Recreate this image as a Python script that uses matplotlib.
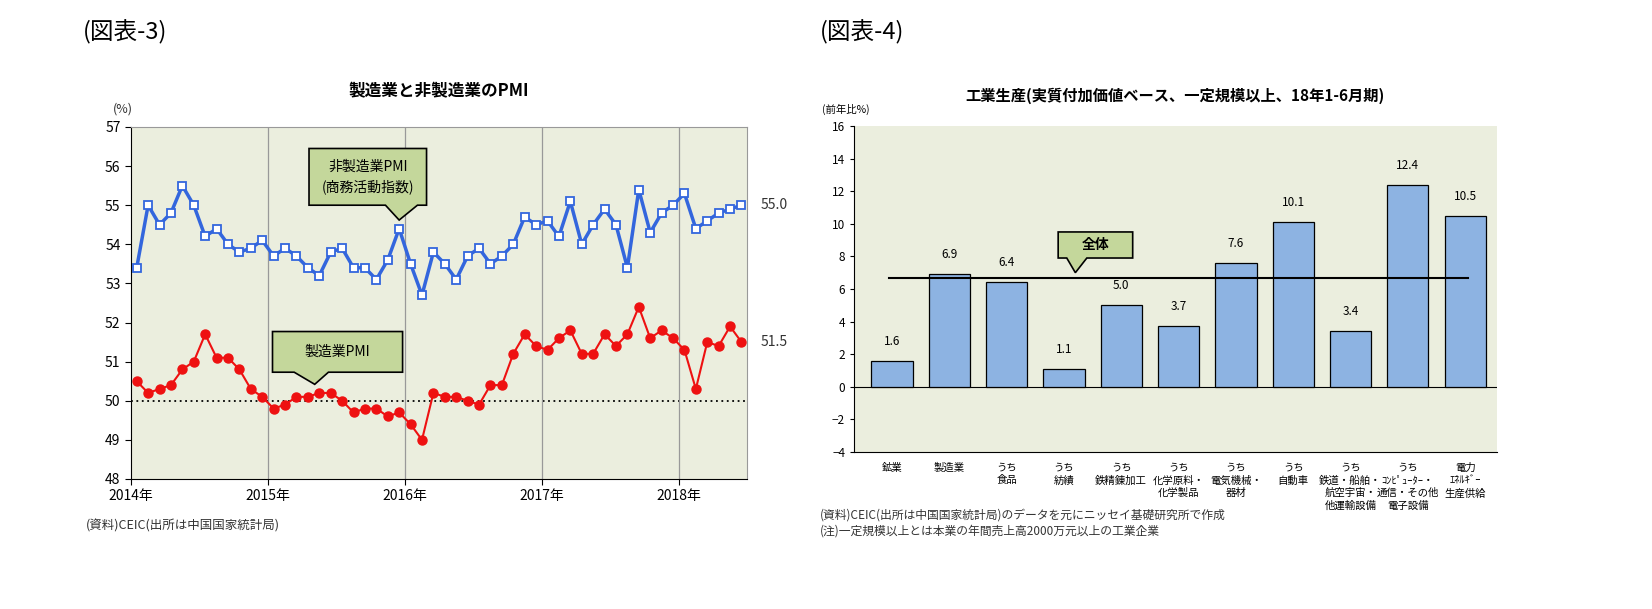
import matplotlib
matplotlib.use("Agg")
import matplotlib.pyplot as plt
from matplotlib.patches import Polygon
import numpy as np

plt.rcParams["font.family"] = "Noto Sans CJK JP"

nonmfg = [53.4,55.0,54.5,54.8,55.5,55.0,54.2,54.4,54.0,53.8,53.9,54.1,
          53.7,53.9,53.7,53.4,53.2,53.8,53.9,53.4,53.4,53.1,53.6,54.4,
          53.5,52.7,53.8,53.5,53.1,53.7,53.9,53.5,53.7,54.0,54.7,54.5,
          54.6,54.2,55.1,54.0,54.5,54.9,54.5,53.4,55.4,54.3,54.8,55.0,
          55.3,54.4,54.6,54.8,54.9,55.0]
mfg = [50.5,50.2,50.3,50.4,50.8,51.0,51.7,51.1,51.1,50.8,50.3,50.1,
       49.8,49.9,50.1,50.1,50.2,50.2,50.0,49.7,49.8,49.8,49.6,49.7,
       49.4,49.0,50.2,50.1,50.1,50.0,49.9,50.4,50.4,51.2,51.7,51.4,
       51.3,51.6,51.8,51.2,51.2,51.7,51.4,51.7,52.4,51.6,51.8,51.6,
       51.3,50.3,51.5,51.4,51.9,51.5]
year_labels = ["2014年","2015年","2016年","2017年","2018年"]

categories = ["鉱業","製造業","うち\n食品","うち\n紡績","うち\n鉄精錬加工","うち\n化学原料・\n化学製品",
              "うち\n電気機械・\n器材","うち\n自動車","うち\n鉄道・船舶・\n航空宇宙・\n他運輸設備",
              "うち\nｺﾝﾋﾟｭｰﾀｰ・\n通信・その他\n電子設備","電力\nｴﾈﾙｷﾞｰ\n生産供給"]
growth = [1.6,6.9,6.4,1.1,5.0,3.7,7.6,10.1,3.4,12.4,10.5]
total = 6.7

bg = "#EBEEDE"
callout_fc = "#C4D79B"


def callout(ax, x0, x1, yb, yt, bl, br, tip, z=6):
    verts = [(x0, yb), (bl, yb), tip, (br, yb), (x1, yb), (x1, yt), (x0, yt)]
    ax.add_patch(Polygon(verts, closed=True, fc=callout_fc, ec="black", lw=1.2, zorder=z))


fig = plt.figure(figsize=(16.52, 6.09), dpi=100)
fig.text(0.05, 0.935, "(図表-3)", fontsize=17)
fig.text(0.496, 0.935, "(図表-4)", fontsize=17)

# Left chart
ax = fig.add_axes([0.0793, 0.2135, 0.373, 0.578])
ax.set_facecolor(bg)
x = np.arange(len(nonmfg)) + 0.5
ax.plot(x, nonmfg, color="#3366DD", lw=2.5, marker="s", ms=6, mfc="white", mec="#3366DD", mew=1.3, zorder=3)
ax.plot(x, mfg, color="#EE1111", lw=1.5, marker="o", ms=6.5, mfc="#EE1111", mec="#EE1111", zorder=3)
ax.axhline(50, color="black", ls=(0, (1, 2)), lw=1.3)
ax.set_xlim(0, 54)
ax.set_ylim(48, 57)
ax.set_yticks(range(48, 58))
ax.set_xticks([0, 12, 24, 36, 48])
ax.set_xticklabels(year_labels, fontsize=10)
for v in [12, 24, 36, 48]:
    ax.axvline(v, color="#999999", lw=0.9)
ax.tick_params(labelsize=10, direction="out", length=4)
for s in ["top", "right"]:
    ax.spines[s].set_color("#999999")
ax.text(-0.03, 1.04, "(%)", transform=ax.transAxes, fontsize=9, color="#333333")
ax.set_title("製造業と非製造業のPMI", fontsize=12, fontweight="bold", pad=22)
ax.text(55.2, nonmfg[-1], "55.0", fontsize=10, va="center", clip_on=False, color="#333333")
ax.text(55.2, mfg[-1], "51.5", fontsize=10, va="center", clip_on=False, color="#333333")

callout(ax, 15.6, 25.9, 55.0, 56.45, 22.3, 25.1, (23.5, 54.62))
ax.text(20.75, 55.72, "非製造業PMI\n(商務活動指数)", fontsize=10, ha="center", va="center",
        linespacing=1.4, zorder=7)
callout(ax, 12.4, 23.8, 50.73, 51.77, 14.3, 17.3, (16.1, 50.42))
ax.text(18.1, 51.25, "製造業PMI", fontsize=10, ha="center", va="center", zorder=7)
fig.text(0.052, 0.13, "(資料)CEIC(出所は中国国家統計局)", fontsize=9, color="#333333")

# Right chart
ax2 = fig.add_axes([0.517, 0.258, 0.389, 0.535])
ax2.set_facecolor(bg)
xb = np.arange(len(growth))
ax2.bar(xb, growth, width=0.72, color="#8DB3E2", edgecolor="black", lw=0.9, zorder=3)
for xi, v in zip(xb, growth):
    ax2.text(xi, v + 0.8, f"{v:.1f}", ha="center", va="bottom", fontsize=8.5)
ax2.axhline(0, color="black", lw=0.8)
ax2.plot([-0.05, len(growth) - 1 + 0.05], [total, total], color="black", lw=1.5, zorder=4)
callout(ax2, 2.9, 4.2, 7.9, 9.5, 3.05, 3.4, (3.2, 7.0))
ax2.text(3.55, 8.7, "全体", fontsize=10, fontweight="bold", ha="center", va="center", zorder=7)
ax2.set_xlim(-0.66, len(growth) - 0.45)
ax2.set_ylim(-4, 16)
ax2.set_yticks(range(-4, 17, 2))
ax2.set_xticks(xb)
ax2.set_xticklabels(categories, fontsize=7.5, va="top", linespacing=1.3)
ax2.tick_params(axis="x", length=0, pad=8)
ax2.tick_params(axis="y", labelsize=8.5, length=3)
for s in ["top", "right"]:
    ax2.spines[s].set_visible(False)
ax2.text(-0.05, 1.04, "(前年比%)", transform=ax2.transAxes, fontsize=7.5)
ax2.set_title("工業生産(実質付加価値ベース、一定規模以上、18年1-6月期)", fontsize=11, fontweight="bold", pad=18)
fig.text(0.496, 0.148, "(資料)CEIC(出所は中国国家統計局)のデータを元にニッセイ基礎研究所で作成", fontsize=8.5, color="#333333")
fig.text(0.496, 0.122, "(注)一定規模以上とは本業の年間売上高2000万元以上の工業企業", fontsize=8.5, color="#333333")

fig.savefig("out.png", dpi=100)
